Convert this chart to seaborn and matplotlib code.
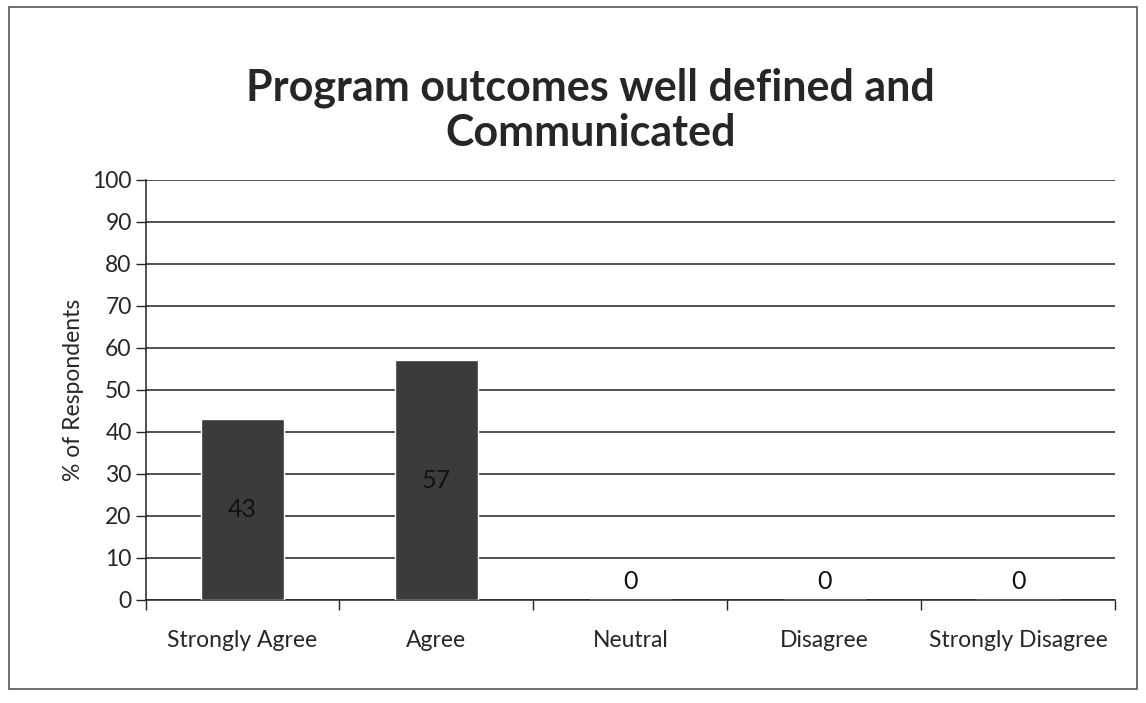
import seaborn as sns
import matplotlib.pyplot as plt
import pandas as pd
from matplotlib.patches import Rectangle

# 数据
categories = ["Strongly Agree", "Agree", "Neutral", "Disagree", "Strongly Disagree"]
percent = [43, 57, 0, 0, 0]
yticks = [0, 10, 20, 30, 40, 50, 60, 70, 80, 90, 100]

df = pd.DataFrame({"Response": categories, "Percent": percent})

sns.set_theme(style="white")
plt.rcParams["font.family"] = ["Lato", "DejaVu Sans"]

fig = plt.figure(figsize=(11.46, 7.03), dpi=100)
ax = fig.add_axes([0.127, 0.147, 0.846, 0.597])

sns.barplot(data=df, x="Response", y="Percent", color="#3b3b3b", saturation=1,
            width=0.43, ax=ax, zorder=3)

# 数值标签
for i, v in enumerate(percent):
    if v > 0:
        ax.text(i, v / 2, str(v), ha="center", va="center", fontsize=18, color="#111111", zorder=4)
    else:
        ax.text(i, 1.5, str(v), ha="center", va="bottom", fontsize=18, color="#111111", zorder=4)

ax.set_ylim(0, 100)
ax.set_yticks(yticks)
ax.set_xlim(-0.5, len(categories) - 0.5)
ax.yaxis.grid(True, color="#222222", linewidth=1.1, zorder=0)
ax.set_axisbelow(True)

# 刻度：x轴刻度在类别之间
ax.set_xticks([i - 0.5 for i in range(len(categories) + 1)], minor=True)
ax.tick_params(axis="x", which="major", length=0, pad=22, labelsize=16.5)
ax.tick_params(axis="x", which="minor", length=7, width=1, color="#222222", direction="out", bottom=True)
ax.tick_params(axis="y", which="major", length=7, width=1, color="#222222", direction="out", left=True, labelsize=16.5, pad=3)

for s in ["top", "right"]:
    ax.spines[s].set_visible(False)
for s in ["left", "bottom"]:
    ax.spines[s].set_color("#222222")
    ax.spines[s].set_linewidth(1.1)

ax.set_xlabel("")
ax.set_ylabel("% of Respondents", fontsize=16.5, labelpad=6)

fig.text(0.515, 0.843, "Program outcomes well defined and\nCommunicated", ha="center", va="center",
         fontsize=31, fontweight="bold", linespacing=1.15)

# 图表外框
fig.patches.append(Rectangle((0.008, 0.02), 0.984, 0.97, transform=fig.transFigure,
                             fill=False, edgecolor="#555555", linewidth=1.2))

plt.savefig("out.png", dpi=100)
